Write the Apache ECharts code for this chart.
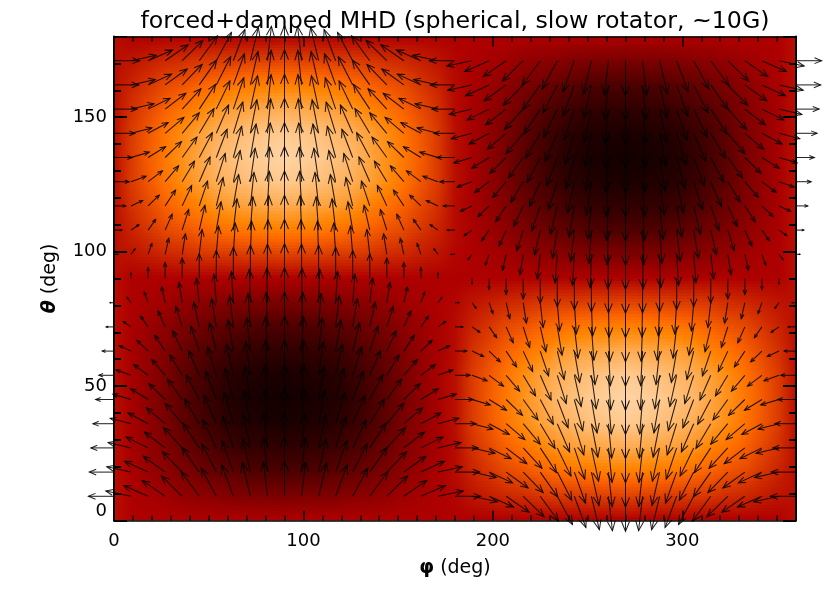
<!DOCTYPE html>
<html>
<head>
<meta charset="utf-8">
<style>
  html, body { margin: 0; background: #fff; }
  #chart { width: 830px; height: 593px; }
</style>
<script src="https://cdn.jsdelivr.net/npm/echarts@6/dist/echarts.min.js"></script>
</head>
<body>
<div id="chart"></div>
<script>
// longitudes of the sampled grid, deg
const phiGrid = [0,9,18,27,36,45,54,63,72,81,90,99,108,117,126,135,144,153,162,171,180,189,198,207,216,225,234,243,252,261,270,279,288,297,306,315,324,333,342,351,360];
// colour table level (0-100), one row per theta
const heatThetas = [180,171,162,153,144,135,126,117,108,99,90,81,72,63,54,45,36,27,18,9,0];
const heatLevels = [
  [50,47,47,47,47,47,47,47,47,47,47,47,47,47,47,47,47,47,47,47,47,47,47,47,47,47,47,47,47,47,47,47,47,47,47,47,47,47,47,47,50],
  [50,51,53,55,56,58,59,59,60,60,61,60,60,59,59,58,56,55,53,51,48,47,45,43,40,38,37,35,34,34,33,34,34,35,37,38,40,43,45,47,50],
  [50,54,58,62,64,67,69,71,72,73,73,73,72,71,69,67,64,62,58,54,49,46,42,38,34,31,27,25,22,21,21,21,22,25,27,31,34,38,42,46,50],
  [50,57,62,67,71,74,78,80,81,82,83,82,81,80,78,74,71,67,62,57,49,45,40,35,29,24,20,16,14,13,13,13,14,16,20,24,29,35,40,45,50],
  [50,59,65,71,76,80,83,85,87,88,89,88,87,85,83,80,76,71,65,59,50,45,39,33,26,20,15,11,9,8,7,8,9,11,15,20,26,33,39,45,50],
  [50,59,66,72,77,81,85,87,89,90,91,90,89,87,85,81,77,72,66,59,50,45,38,32,25,19,13,9,7,6,5,6,7,9,13,19,25,32,38,45,50],
  [50,59,65,71,76,80,83,85,87,88,89,88,87,85,83,80,76,71,65,59,50,45,39,33,26,20,15,11,9,8,7,8,9,11,15,20,26,33,39,45,50],
  [50,57,62,67,71,74,78,80,81,82,83,82,81,80,78,74,71,67,62,57,49,45,40,35,29,24,20,16,14,13,13,13,14,16,20,24,29,35,40,45,50],
  [50,54,58,62,64,67,69,71,72,73,73,73,72,71,69,67,64,62,58,54,49,46,42,38,34,31,27,25,22,21,21,21,22,25,27,31,34,38,42,46,50],
  [50,51,53,55,56,58,59,59,60,60,61,60,60,59,59,58,56,55,53,51,48,47,45,43,40,38,37,35,34,34,33,34,34,35,37,38,40,43,45,47,50],
  [50,47,47,47,47,47,47,47,47,47,47,47,47,47,47,47,47,47,47,47,47,47,47,47,47,47,47,47,47,47,47,47,47,47,47,47,47,47,47,47,50],
  [50,47,45,43,40,38,37,35,34,34,33,34,34,35,37,38,40,43,45,47,48,51,53,55,56,58,59,59,60,60,61,60,60,59,59,58,56,55,53,51,50],
  [50,46,42,38,34,31,27,25,22,21,21,21,22,25,27,31,34,38,42,46,49,54,58,62,64,67,69,71,72,73,73,73,72,71,69,67,64,62,58,54,50],
  [50,45,40,35,29,24,20,16,14,13,13,13,14,16,20,24,29,35,40,45,49,57,62,67,71,74,78,80,81,82,83,82,81,80,78,74,71,67,62,57,50],
  [50,45,39,33,26,20,15,11,9,8,7,8,9,11,15,20,26,33,39,45,50,59,65,71,76,80,83,85,87,88,89,88,87,85,83,80,76,71,65,59,50],
  [50,45,38,32,25,19,13,9,7,6,5,6,7,9,13,19,25,32,38,45,50,59,66,72,77,81,85,87,89,90,91,90,89,87,85,81,77,72,66,59,50],
  [50,45,39,33,26,20,15,11,9,8,7,8,9,11,15,20,26,33,39,45,50,59,65,71,76,80,83,85,87,88,89,88,87,85,83,80,76,71,65,59,50],
  [50,45,40,35,29,24,20,16,14,13,13,13,14,16,20,24,29,35,40,45,49,57,62,67,71,74,78,80,81,82,83,82,81,80,78,74,71,67,62,57,50],
  [50,46,42,38,34,31,27,25,22,21,21,21,22,25,27,31,34,38,42,46,49,54,58,62,64,67,69,71,72,73,73,73,72,71,69,67,64,62,58,54,50],
  [50,47,45,43,40,38,37,35,34,34,33,34,34,35,37,38,40,43,45,47,48,51,53,55,56,58,59,59,60,60,61,60,60,59,59,58,56,55,53,51,50],
  [50,47,47,47,47,47,47,47,47,47,47,47,47,47,47,47,47,47,47,47,47,47,47,47,47,47,47,47,47,47,47,47,47,47,47,47,47,47,47,47,50]
];
// arrow rows
const arrowThetas = [171,162,153,144,135,126,117,108,99,90,81,72,63,54,45,36,27,18,9];
// arrow extent along phi (deg), one row per theta
const arrowDPhi = [
  [13.5,13.3,12.9,12.1,11.0,9.6,8.0,6.1,4.2,2.1,0,-2.1,-4.2,-6.1,-8.0,-9.6,-11.0,-12.1,-12.9,-13.3,-13.5,-13.3,-12.9,-12.1,-11.0,-9.6,-8.0,-6.1,-4.2,-2.1,0,2.1,4.2,6.1,8.0,9.6,11.0,12.1,12.9,13.3,13.5],
  [13.0,12.8,12.4,11.6,10.5,9.2,7.6,5.9,4.0,2.0,0,-2.0,-4.0,-5.9,-7.6,-9.2,-10.5,-11.6,-12.4,-12.8,-13.0,-12.8,-12.4,-11.6,-10.5,-9.2,-7.6,-5.9,-4.0,-2.0,0,2.0,4.0,5.9,7.6,9.2,10.5,11.6,12.4,12.8,13.0],
  [12.2,12.1,11.6,10.9,9.9,8.6,7.2,5.5,3.8,1.9,0,-1.9,-3.8,-5.5,-7.2,-8.6,-9.9,-10.9,-11.6,-12.1,-12.2,-12.1,-11.6,-10.9,-9.9,-8.6,-7.2,-5.5,-3.8,-1.9,0,1.9,3.8,5.5,7.2,8.6,9.9,10.9,11.6,12.1,12.2],
  [11.1,11.0,10.6,9.9,9.0,7.8,6.5,5.0,3.4,1.7,0,-1.7,-3.4,-5.0,-6.5,-7.8,-9.0,-9.9,-10.6,-11.0,-11.1,-11.0,-10.6,-9.9,-9.0,-7.8,-6.5,-5.0,-3.4,-1.7,0,1.7,3.4,5.0,6.5,7.8,9.0,9.9,10.6,11.0,11.1],
  [9.7,9.6,9.2,8.6,7.8,6.9,5.7,4.4,3.0,1.5,0,-1.5,-3.0,-4.4,-5.7,-6.9,-7.8,-8.6,-9.2,-9.6,-9.7,-9.6,-9.2,-8.6,-7.8,-6.9,-5.7,-4.4,-3.0,-1.5,0,1.5,3.0,4.4,5.7,6.9,7.8,8.6,9.2,9.6,9.7],
  [8.0,7.9,7.6,7.1,6.5,5.7,4.7,3.6,2.5,1.2,0,-1.2,-2.5,-3.6,-4.7,-5.7,-6.5,-7.1,-7.6,-7.9,-8.0,-7.9,-7.6,-7.1,-6.5,-5.7,-4.7,-3.6,-2.5,-1.2,0,1.2,2.5,3.6,4.7,5.7,6.5,7.1,7.6,7.9,8.0],
  [6.2,6.1,5.9,5.5,5.0,4.4,3.6,2.8,1.9,1.0,0,-1.0,-1.9,-2.8,-3.6,-4.4,-5.0,-5.5,-5.9,-6.1,-6.2,-6.1,-5.9,-5.5,-5.0,-4.4,-3.6,-2.8,-1.9,-1.0,0,1.0,1.9,2.8,3.6,4.4,5.0,5.5,5.9,6.1,6.2],
  [4.2,4.1,4.0,3.7,3.4,3.0,2.5,1.9,1.3,0.7,0,-0.7,-1.3,-1.9,-2.5,-3.0,-3.4,-3.7,-4.0,-4.1,-4.2,-4.1,-4.0,-3.7,-3.4,-3.0,-2.5,-1.9,-1.3,-0.7,0,0.7,1.3,1.9,2.5,3.0,3.4,3.7,4.0,4.1,4.2],
  [2.1,2.1,2.0,1.9,1.7,1.5,1.2,1.0,0.6,0.3,0,-0.3,-0.6,-1.0,-1.2,-1.5,-1.7,-1.9,-2.0,-2.1,-2.1,-2.1,-2.0,-1.9,-1.7,-1.5,-1.2,-1.0,-0.6,-0.3,0,0.3,0.6,1.0,1.2,1.5,1.7,1.9,2.0,2.1,2.1],
  [0,0,0,0,0,0,0,0,0,0,0,0,0,0,0,0,0,0,0,0,0,0,0,0,0,0,0,0,0,0,0,0,0,0,0,0,0,0,0,0,0],
  [-2.1,-2.1,-2.0,-1.9,-1.7,-1.5,-1.2,-1.0,-0.6,-0.3,0,0.3,0.6,1.0,1.2,1.5,1.7,1.9,2.0,2.1,2.1,2.1,2.0,1.9,1.7,1.5,1.2,1.0,0.6,0.3,0,-0.3,-0.6,-1.0,-1.2,-1.5,-1.7,-1.9,-2.0,-2.1,-2.1],
  [-4.2,-4.1,-4.0,-3.7,-3.4,-3.0,-2.5,-1.9,-1.3,-0.7,0,0.7,1.3,1.9,2.5,3.0,3.4,3.7,4.0,4.1,4.2,4.1,4.0,3.7,3.4,3.0,2.5,1.9,1.3,0.7,0,-0.7,-1.3,-1.9,-2.5,-3.0,-3.4,-3.7,-4.0,-4.1,-4.2],
  [-6.2,-6.1,-5.9,-5.5,-5.0,-4.4,-3.6,-2.8,-1.9,-1.0,0,1.0,1.9,2.8,3.6,4.4,5.0,5.5,5.9,6.1,6.2,6.1,5.9,5.5,5.0,4.4,3.6,2.8,1.9,1.0,0,-1.0,-1.9,-2.8,-3.6,-4.4,-5.0,-5.5,-5.9,-6.1,-6.2],
  [-8.0,-7.9,-7.6,-7.1,-6.5,-5.7,-4.7,-3.6,-2.5,-1.2,0,1.2,2.5,3.6,4.7,5.7,6.5,7.1,7.6,7.9,8.0,7.9,7.6,7.1,6.5,5.7,4.7,3.6,2.5,1.2,0,-1.2,-2.5,-3.6,-4.7,-5.7,-6.5,-7.1,-7.6,-7.9,-8.0],
  [-9.7,-9.6,-9.2,-8.6,-7.8,-6.9,-5.7,-4.4,-3.0,-1.5,0,1.5,3.0,4.4,5.7,6.9,7.8,8.6,9.2,9.6,9.7,9.6,9.2,8.6,7.8,6.9,5.7,4.4,3.0,1.5,0,-1.5,-3.0,-4.4,-5.7,-6.9,-7.8,-8.6,-9.2,-9.6,-9.7],
  [-11.1,-11.0,-10.6,-9.9,-9.0,-7.8,-6.5,-5.0,-3.4,-1.7,0,1.7,3.4,5.0,6.5,7.8,9.0,9.9,10.6,11.0,11.1,11.0,10.6,9.9,9.0,7.8,6.5,5.0,3.4,1.7,0,-1.7,-3.4,-5.0,-6.5,-7.8,-9.0,-9.9,-10.6,-11.0,-11.1],
  [-12.2,-12.1,-11.6,-10.9,-9.9,-8.6,-7.2,-5.5,-3.8,-1.9,0,1.9,3.8,5.5,7.2,8.6,9.9,10.9,11.6,12.1,12.2,12.1,11.6,10.9,9.9,8.6,7.2,5.5,3.8,1.9,0,-1.9,-3.8,-5.5,-7.2,-8.6,-9.9,-10.9,-11.6,-12.1,-12.2],
  [-13.0,-12.8,-12.4,-11.6,-10.5,-9.2,-7.6,-5.9,-4.0,-2.0,0,2.0,4.0,5.9,7.6,9.2,10.5,11.6,12.4,12.8,13.0,12.8,12.4,11.6,10.5,9.2,7.6,5.9,4.0,2.0,0,-2.0,-4.0,-5.9,-7.6,-9.2,-10.5,-11.6,-12.4,-12.8,-13.0],
  [-13.5,-13.3,-12.9,-12.1,-11.0,-9.6,-8.0,-6.1,-4.2,-2.1,0,2.1,4.2,6.1,8.0,9.6,11.0,12.1,12.9,13.3,13.5,13.3,12.9,12.1,11.0,9.6,8.0,6.1,4.2,2.1,0,-2.1,-4.2,-6.1,-8.0,-9.6,-11.0,-12.1,-12.9,-13.3,-13.5]
];
// arrow extent along theta (deg): same for every row, only changes with phi
const arrowDTheta = [0,2.0,4.0,5.9,7.6,9.2,10.5,11.6,12.4,12.8,13.0,12.8,12.4,11.6,10.5,9.2,7.6,5.9,4.0,2.0,0,-2.0,-4.0,-5.9,-7.6,-9.2,-10.5,-11.6,-12.4,-12.8,-13.0,-12.8,-12.4,-11.6,-10.5,-9.2,-7.6,-5.9,-4.0,-2.0,0];

// red temperature colour table: level, r, g, b
const colorTable = [[0,0,0,0],[47,174,0,0],[69,255,106,0],[74.5,255,133,0],[100,255,255,255]];

function levelColor(level) {
  let i = 1;
  while (i < colorTable.length - 1 && level > colorTable[i][0]) i++;
  const a = colorTable[i - 1], b = colorTable[i];
  const f = (level - a[0]) / (b[0] - a[0]);
  const c = [1, 2, 3].map(k => Math.round(a[k] + (b[k] - a[k]) * f));
  return 'rgb(' + c.join(',') + ')';
}

// each strip blends two neighbouring rows, so the map shades smoothly like the original
const STRIPS = 8;
const heatData = [];
for (let j = 0; j < heatThetas.length - 1; j++) {
  for (let s = 0; s < STRIPS; s++) heatData.push([j, s]);
}

function renderHeat(params, api) {
  const j = api.value(0), s = api.value(1);
  const t0 = heatThetas[j], t1 = heatThetas[j + 1];
  const top = api.coord([0, t0 + (t1 - t0) * s / STRIPS]);
  const bottom = api.coord([360, t0 + (t1 - t0) * (s + 1) / STRIPS]);
  const f = (s + 0.5) / STRIPS;
  const stops = phiGrid.map((phi, i) => ({
    offset: phi / 360,
    color: levelColor(heatLevels[j][i] * (1 - f) + heatLevels[j + 1][i] * f)
  }));
  const y = Math.floor(top[1]);
  return {
    type: 'rect',
    shape: { x: top[0], y: y, width: bottom[0] - top[0], height: Math.ceil(bottom[1]) - y + 1 },
    style: { fill: new echarts.graphic.LinearGradient(0, 0, 1, 0, stops) },
    silent: true
  };
}

const arrowData = [];
arrowThetas.forEach((theta, r) => {
  phiGrid.forEach((phi, c) => {
    arrowData.push([phi, theta, arrowDPhi[r][c], arrowDTheta[c]]);
  });
});

function renderArrow(params, api) {
  const phi = api.value(0), theta = api.value(1);
  const a = api.coord([phi, theta]);
  const b = api.coord([phi + api.value(2), theta + api.value(3)]);
  const dx = b[0] - a[0], dy = b[1] - a[1];
  const ang = Math.atan2(dy, dx), len = Math.hypot(dx, dy);
  const h = len * 0.3, w = Math.PI / 8;
  const style = { stroke: 'rgba(0,0,0,0.85)', lineWidth: 1.05, fill: null };
  return {
    type: 'group',
    silent: true,
    children: [
      { type: 'line', shape: { x1: a[0], y1: a[1], x2: b[0], y2: b[1] }, style: style },
      {
        type: 'polyline',
        shape: { points: [
          [b[0] - h * Math.cos(ang - w), b[1] - h * Math.sin(ang - w)],
          b,
          [b[0] - h * Math.cos(ang + w), b[1] - h * Math.sin(ang + w)]
        ] },
        style: style
      }
    ]
  };
}

const FONT = '"DejaVu Sans"';

function xAxisBase(position, showLabel) {
  return {
    type: 'value', position: position, min: 0, max: 360, interval: 100, z: 5,
    splitLine: { show: false },
    axisLine: { show: true, onZero: false, lineStyle: { color: '#000', width: 1.5 } },
    axisTick: { show: true, inside: true, length: 10, lineStyle: { color: '#000', width: 1.5 } },
    minorTick: { show: true, splitNumber: 10, length: 5, lineStyle: { color: '#000', width: 1.5 } },
    axisLabel: { show: showLabel, color: '#000', fontFamily: FONT, fontSize: 18, margin: 12, showMaxLabel: false }
  };
}
function yAxisBase(position, showLabel) {
  return {
    type: 'value', position: position, min: 0, max: 180, interval: 50, z: 5,
    splitLine: { show: false },
    axisLine: { show: true, onZero: false, lineStyle: { color: '#000', width: 2 } },
    axisTick: { show: true, inside: true, length: 13, lineStyle: { color: '#000', width: 2 } },
    minorTick: { show: true, splitNumber: 5, length: 7, lineStyle: { color: '#000', width: 2 } },
    axisLabel: { show: showLabel, color: '#000', fontFamily: FONT, fontSize: 18, margin: 7, showMaxLabel: false, verticalAlignMinLabel: 'bottom' }
  };
}

const chart = echarts.init(document.getElementById('chart'), null, { renderer: 'canvas' });
chart.setOption({
  animation: false,
  backgroundColor: '#fff',
  title: {
    text: 'forced+damped MHD (spherical, slow rotator, ~10G)',
    left: 455, top: 5, textAlign: 'center',
    textStyle: { color: '#000', fontFamily: FONT, fontSize: 23.7, fontWeight: 'normal' }
  },
  grid: { left: 114, right: 34, top: 36.5, bottom: 72.5 },
  xAxis: [
    Object.assign(xAxisBase('bottom', true), {
      name: '{s|φ} (deg)', nameLocation: 'middle', nameGap: 38,
      nameTextStyle: { color: '#000', fontFamily: FONT, fontSize: 19, rich: { s: { fontFamily: FONT, fontSize: 19, fontWeight: 'bold' } } }
    }),
    xAxisBase('top', false)
  ],
  yAxis: [
    Object.assign(yAxisBase('left', true), {
      name: '{s|θ} (deg)', nameLocation: 'middle', nameGap: 54, nameRotate: 90,
      nameTextStyle: { color: '#000', fontFamily: FONT, fontSize: 19, rich: { s: { fontFamily: FONT, fontSize: 19, fontWeight: 'bold', fontStyle: 'italic' } } }
    }),
    yAxisBase('right', false)
  ],
  series: [
    { type: 'custom', name: 'heat', data: heatData, renderItem: renderHeat, clip: true, z: 1, silent: true, xAxisIndex: 0, yAxisIndex: 0, encode: { x: [], y: [] } },
    { type: 'custom', name: 'field', data: arrowData, renderItem: renderArrow, clip: false, z: 10, silent: true, xAxisIndex: 0, yAxisIndex: 0, encode: { x: 0, y: 1 } }
  ]
});
chart.setOption({ title: { left: 450 } });
</script>
</body>
</html>
